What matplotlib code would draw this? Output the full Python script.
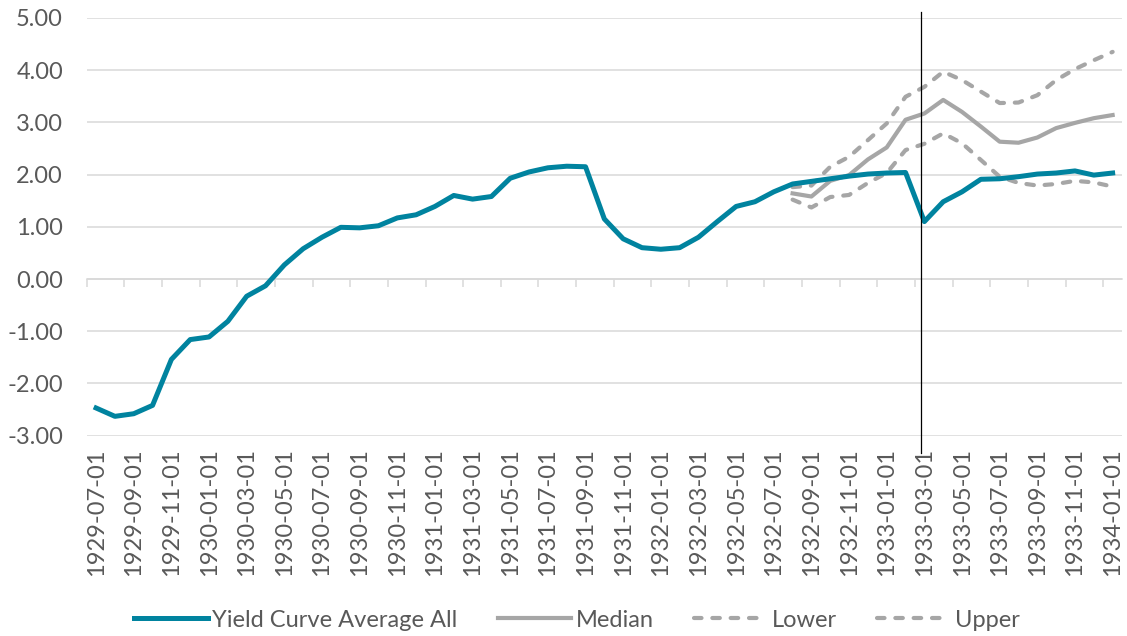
import numpy as np
import pandas as pd
import matplotlib
matplotlib.use("Agg")
import matplotlib.pyplot as plt

plt.rcParams['font.family'] = ['Lato', 'DejaVu Sans']

dates = [d.strftime('%Y-%m-%d') for d in pd.date_range('1929-07-01', '1934-01-01', freq='MS')]

yield_avg = [-2.47, -2.63, -2.58, -2.42, -1.54, -1.16, -1.11, -0.81, -0.33, -0.13,
             0.27, 0.58, 0.80, 0.99, 0.98, 1.02, 1.17, 1.23, 1.39, 1.60,
             1.53, 1.58, 1.93, 2.05, 2.13, 2.16, 2.15, 1.15, 0.77, 0.60,
             0.57, 0.60, 0.80, 1.10, 1.39, 1.48, 1.67, 1.82, 1.87, 1.92,
             1.97, 2.01, 2.03, 2.04, 1.10, 1.48, 1.67, 1.91, 1.92, 1.96,
             2.01, 2.03, 2.07, 1.99, 2.03]

n_blank = 37
median = [np.nan] * n_blank + [1.64, 1.58, 1.88, 1.99, 2.29, 2.52, 3.05, 3.17, 3.43, 3.20,
                               2.92, 2.63, 2.61, 2.71, 2.89, 2.99, 3.08, 3.14]
upper = [np.nan] * n_blank + [1.76, 1.79, 2.15, 2.34, 2.66, 2.98, 3.49, 3.68, 3.97, 3.81,
                              3.59, 3.37, 3.38, 3.52, 3.81, 4.02, 4.19, 4.35]
lower = [np.nan] * n_blank + [1.52, 1.37, 1.57, 1.61, 1.84, 2.03, 2.47, 2.59, 2.79, 2.60,
                              2.28, 1.96, 1.84, 1.79, 1.82, 1.88, 1.85, 1.77]

marker_date = '1933-03-01'

teal = '#00839F'
grey = '#A6A6A6'
grid_c = '#D9D9D9'
text_c = '#595959'
fs = 17

fig = plt.figure(figsize=(11.27, 6.36), dpi=100)
ax = fig.add_axes([0.0769, 0.315, 0.9187, 0.6568])

x = np.arange(len(dates))
ax.plot(x, yield_avg, color=teal, lw=3.6, solid_joinstyle='round', label='Yield Curve Average All', zorder=4)
ax.plot(x, median, color=grey, lw=3.0, solid_joinstyle='round', label='Median', zorder=3)
ax.plot(x, lower, color=grey, lw=3.0, dashes=(1.8, 2.6), dash_capstyle='round', label='Lower', zorder=3)
ax.plot(x, upper, color=grey, lw=3.0, dashes=(1.8, 2.6), dash_capstyle='round', label='Upper', zorder=3)

xm = dates.index(marker_date) - 0.2
ax.plot([xm, xm], [5.11, -3.33], color='black', lw=0.9, clip_on=False, zorder=5)

ax.set_xlim(-0.5, len(dates) - 0.5)
ax.set_ylim(-3, 5)
ax.set_yticks(np.arange(-3, 6, 1))
ax.set_yticklabels([f'{v:.2f}' for v in np.arange(-3, 6, 1)])
ax.yaxis.grid(True, color=grid_c, lw=1.1)
ax.set_axisbelow(True)
ax.tick_params(axis='y', length=0, pad=17, labelsize=fs, labelcolor=text_c)

for s in ['top', 'right', 'left']:
    ax.spines[s].set_visible(False)
ax.spines['bottom'].set_position(('data', 0))
ax.spines['bottom'].set_color(grid_c)
ax.spines['bottom'].set_linewidth(1.1)

ax.set_xticks(np.arange(-0.5, len(dates) - 0.5, 2))
ax.set_xticklabels([])
ax.tick_params(axis='x', length=6, width=1.1, color=grid_c, direction='out')

sec = ax.secondary_xaxis(0)
sec.set_xticks(x[::2])
sec.set_xticklabels(dates[::2], rotation=90)
sec.tick_params(length=0, pad=9, labelsize=fs, labelcolor=text_c)
sec.spines['bottom'].set_visible(False)

leg = fig.legend(loc='center', bbox_to_anchor=(0.512, 0.025), ncol=4, frameon=False,
                 fontsize=fs, handlelength=3.1, handletextpad=0.2, columnspacing=1.7,
                 labelcolor=text_c)

fig.savefig('out.png', dpi=100)
